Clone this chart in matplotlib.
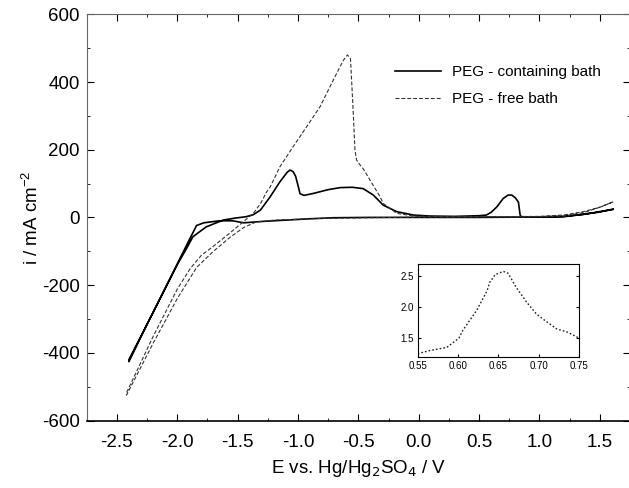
import matplotlib
matplotlib.use('Agg')
import matplotlib.pyplot as plt
from matplotlib.ticker import MultipleLocator

plt.rcParams['font.family'] = ['Liberation Sans', 'DejaVu Sans']
plt.rcParams['axes.unicode_minus'] = False

# PEG - containing bath: cathodic scan (1.6 -> -2.4) then anodic scan (-2.4 -> 1.6)
peg_E = [1.61, 1.45, 1.36, 1.2, 0.9, 0.5, 0.0, -0.4, -0.7, -0.9, -1.1, -1.3, -1.45,
         -1.54, -1.65, -1.78, -1.84, -1.9, -2.1, -2.25, -2.40,
         -2.40, -2.2, -2.0, -1.92, -1.87, -1.76, -1.62, -1.52, -1.43, -1.37, -1.31, -1.23,
         -1.15, -1.09, -1.066, -1.04, -1.02, -1.0, -0.983, -0.95, -0.87, -0.75, -0.65,
         -0.55, -0.46, -0.376, -0.293, -0.182, -0.044, 0.094, 0.3, 0.5, 0.56, 0.6, 0.647,
         0.70, 0.74, 0.771, 0.80, 0.826, 0.84, 0.85, 1.0, 1.2, 1.364, 1.5, 1.61]
peg_i = [24, 14, 9, 3, 1, 0, 0, 0, -1, -4, -8, -12, -16,
         -10, -10, -16, -24, -66, -209, -316, -426,
         -420, -281, -140, -90, -57, -28, -8, -2, 2, 8, 22, 61,
         105, 133, 140, 135, 122, 95, 70, 65, 71, 82, 88,
         89, 85, 66, 36, 17, 7, 4, 3, 5, 7, 15, 31,
         56, 66, 66, 58, 45, 7, 2, 1, 2, 9, 16, 24]

# PEG - free bath
free_E = [1.61, 1.5, 1.364, 1.2, 1.0, 0.7, 0.0, -0.8, -1.2, -1.35, -1.45, -1.56, -1.70,
          -1.84, -2.0, -2.2, -2.42,
          -2.42, -2.2, -2.0, -1.89, -1.80, -1.70, -1.56, -1.45, -1.37, -1.31, -1.26, -1.23,
          -1.149, -1.04, -0.928, -0.817, -0.707, -0.652, -0.62, -0.59, -0.565, -0.545,
          -0.528, -0.515, -0.486, -0.458, -0.403, -0.32, -0.293, -0.182, -0.04, 0.2, 0.6,
          0.85, 1.2, 1.364, 1.5, 1.61]
free_i = [46, 30, 17, 7, 3, 2, 1, -3, -8, -14, -30, -58, -100,
          -148, -240, -372, -525,
          -518, -352, -212, -150, -112, -85, -45, -12, 12, 41, 75, 90,
          150, 209, 268, 327, 406, 445, 466, 480, 468, 330,
          200, 170, 155, 143, 110, 61, 41, 12, 4, 2, 2,
          1, 4, 14, 30, 46]

# inset: PEG - free bath around 0.65 V
ins_E = [0.55, 0.565, 0.586, 0.601, 0.606, 0.623, 0.636, 0.639, 0.646, 0.656, 0.662,
         0.672, 0.685, 0.697, 0.705, 0.722, 0.735, 0.75]
ins_i = [1.25, 1.30, 1.35, 1.50, 1.63, 1.95, 2.27, 2.40, 2.53, 2.58, 2.55,
         2.32, 2.08, 1.89, 1.81, 1.65, 1.60, 1.50]

fig = plt.figure(figsize=(6.29, 4.88), dpi=100)
ax = fig.add_axes([0.1378, 0.1383, 0.8638, 0.8324])

ax.plot(peg_E, peg_i, color='black', lw=1.2, label='PEG - containing bath')
ax.plot(free_E, free_i, color='#333333', lw=0.8, linestyle=(0, (3.5, 1.8)),
        label='PEG - free bath')

ax.set_xlim(-2.75, 1.75)
ax.set_ylim(-600, 600)
ax.xaxis.set_major_locator(MultipleLocator(0.5))
ax.xaxis.set_minor_locator(MultipleLocator(0.25))
ax.yaxis.set_major_locator(MultipleLocator(200))
ax.yaxis.set_minor_locator(MultipleLocator(100))
ax.set_xticks([-2.5, -2.0, -1.5, -1.0, -0.5, 0.0, 0.5, 1.0, 1.5])
ax.set_xticklabels(['-2.5', '-2.0', '-1.5', '-1.0', '-0.5', '0.0', '0.5', '1.0', '1.5'])
ax.tick_params(which='both', direction='in', top=True, right=True, labelsize=13.5)
ax.tick_params(which='major', length=5)
ax.tick_params(which='minor', length=2.5)
ax.tick_params(axis='x', pad=10)
ax.tick_params(axis='y', pad=5)
for s in ['left', 'top']:
    ax.spines[s].set_color('#666666')
ax.spines['right'].set_visible(False)
ax.spines['bottom'].set_linewidth(1.2)

ax.set_xlabel('E vs. Hg/Hg$_2$SO$_4$ / V', fontsize=13.5, labelpad=5)
ax.set_ylabel('i / mA cm$^{\\mathregular{-2}}$', fontsize=13.5, labelpad=0)

ax.legend(loc='upper left', bbox_to_anchor=(395 / 629, 1 - 65 / 488),
          bbox_transform=fig.transFigure, frameon=False, fontsize=11,
          handlelength=3.0, handletextpad=0.7, labelspacing=0.85, borderaxespad=0,
          borderpad=0)

axi = fig.add_axes([0.664, 0.269, 0.257, 0.190])
axi.plot(ins_E, ins_i, color='#222222', lw=1.0, linestyle=(0, (1.2, 1.5)))
axi.set_xlim(0.55, 0.75)
axi.set_ylim(1.2, 2.7)
axi.set_xticks([0.55, 0.60, 0.65, 0.70, 0.75])
axi.set_yticks([1.5, 2.0, 2.5])
axi.tick_params(direction='in', right=True, labelsize=7, length=2.5, pad=3)

fig.savefig('out.png', dpi=100)
